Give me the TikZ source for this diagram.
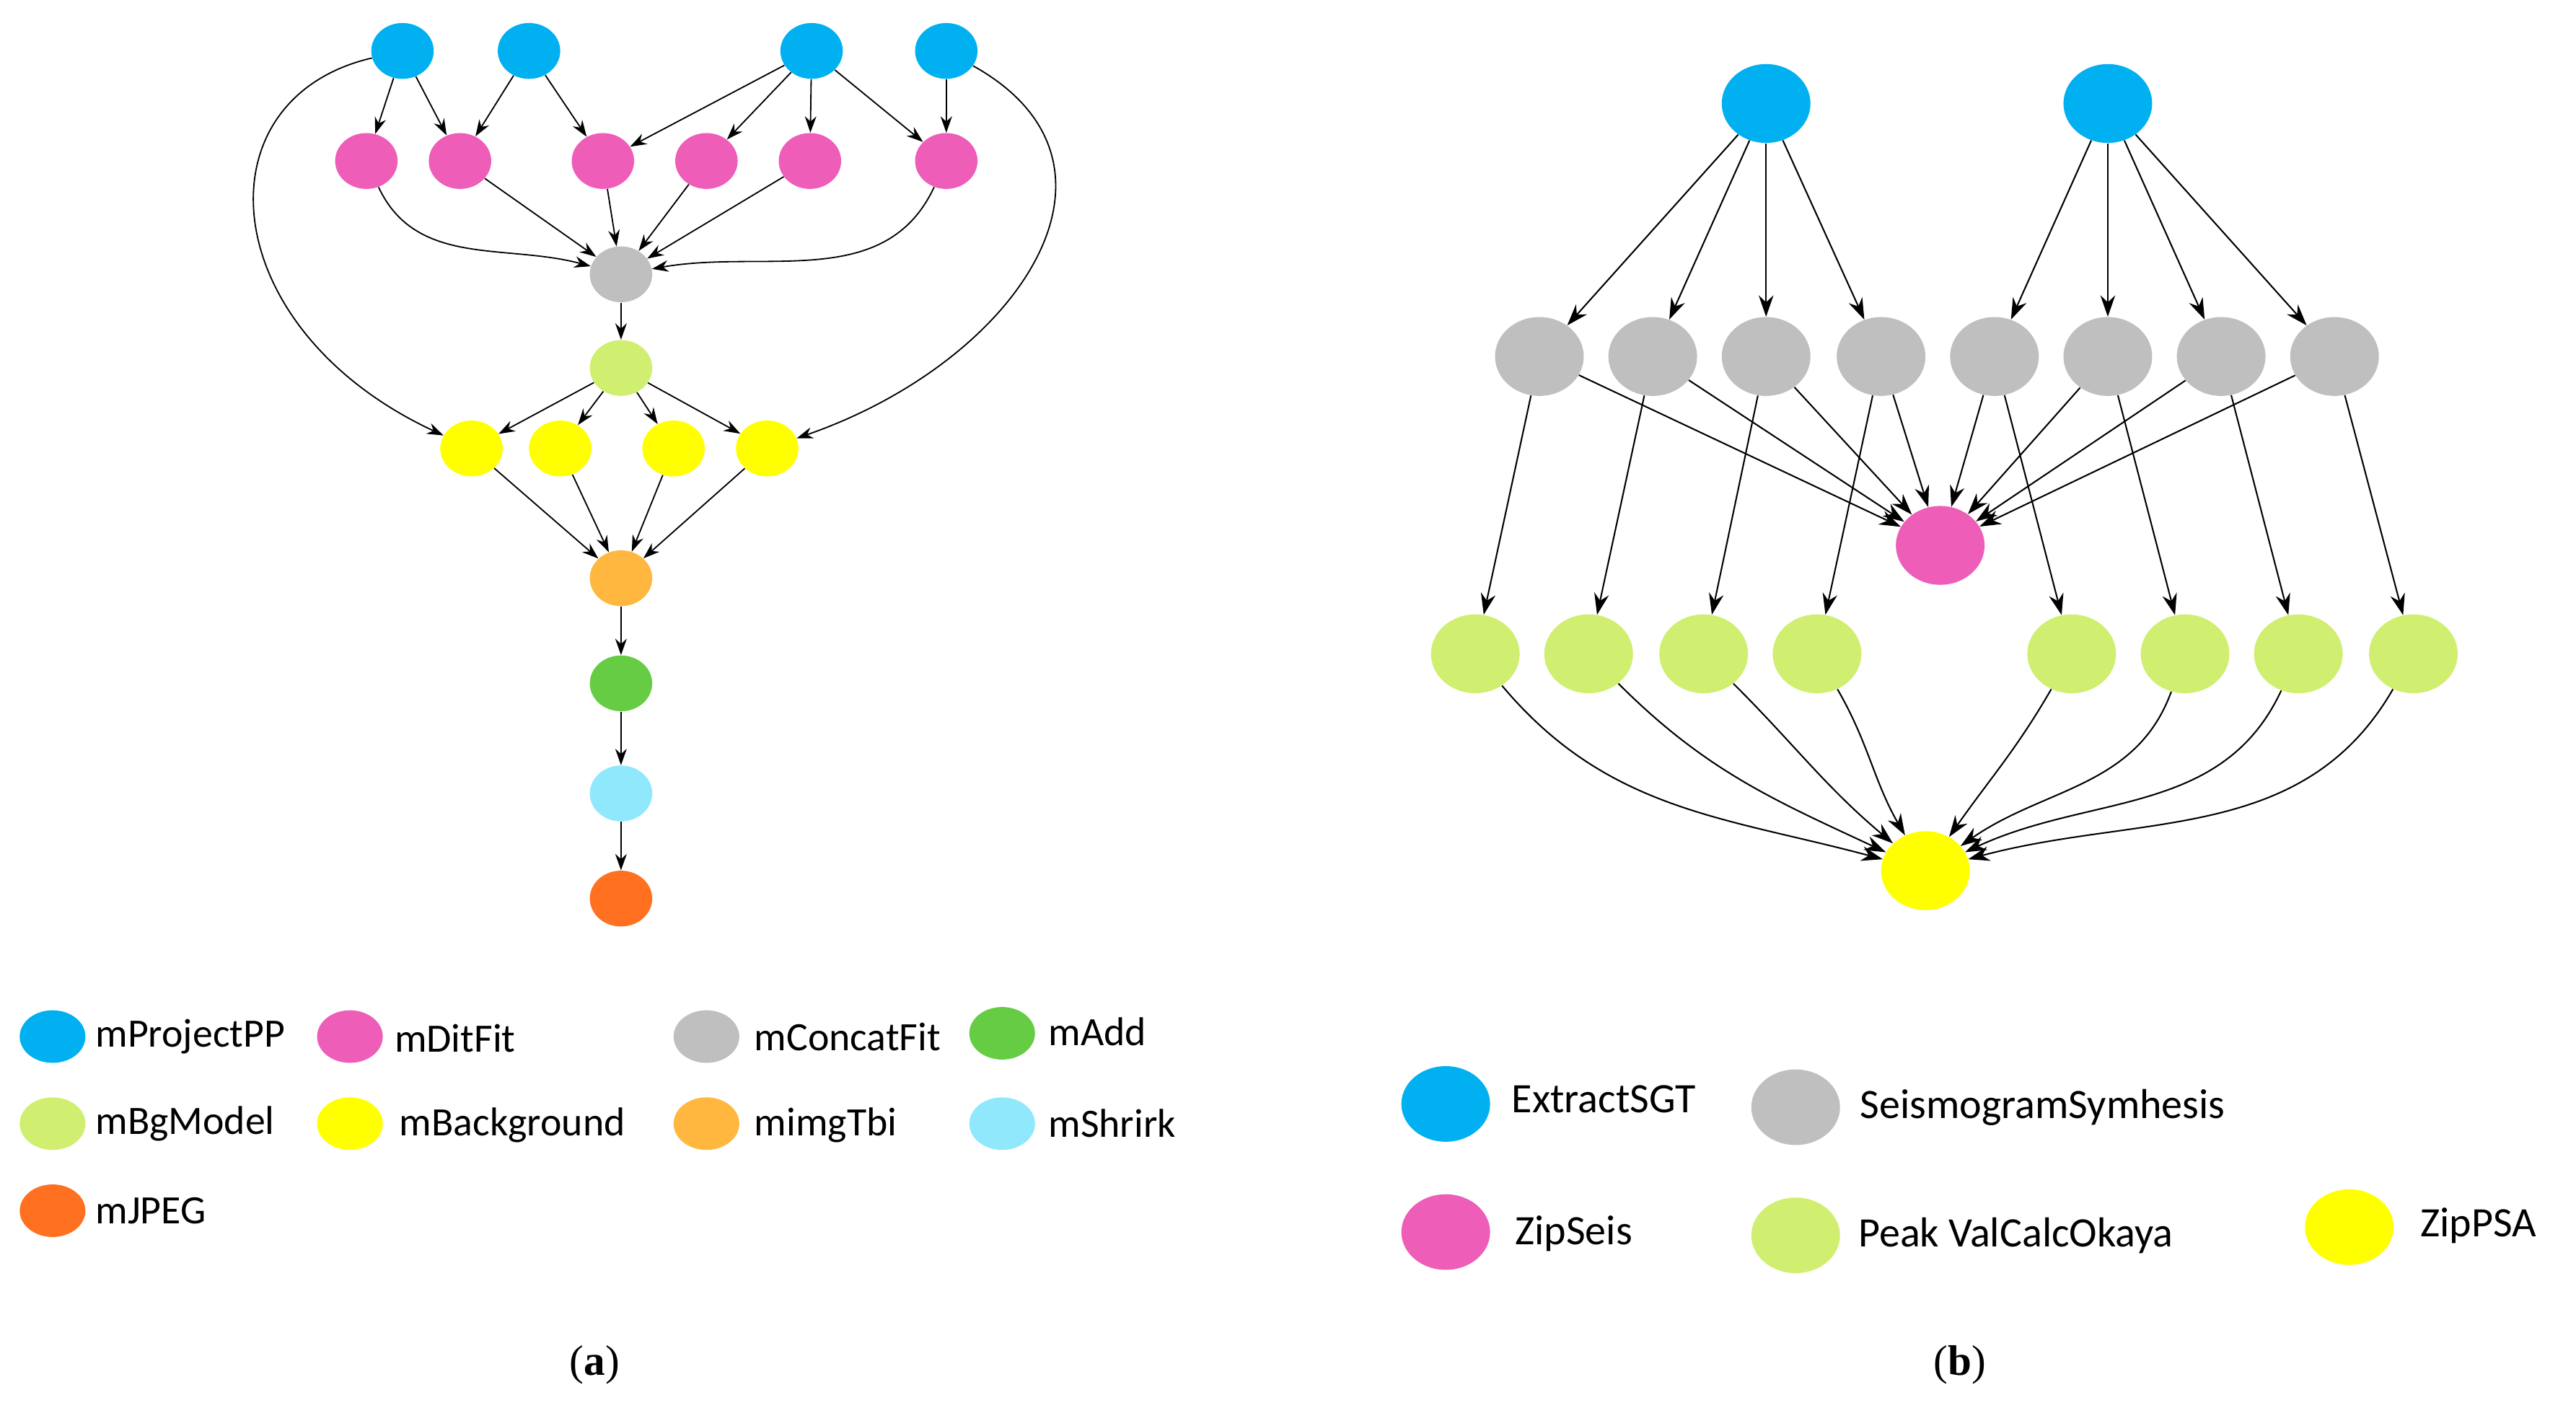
\documentclass[tikz,border=0pt]{standalone}
\usepackage{fontspec}
\setmainfont{Carlito}
\newfontfamily\capfont{Liberation Serif}
\usetikzlibrary{arrows.meta,shapes.geometric}
\definecolor{cblue}{HTML}{00B0F0}
\definecolor{cpink}{HTML}{EE5DB8}
\definecolor{cgray}{HTML}{BFBFBF}
\definecolor{clg}{HTML}{D0EE70}
\definecolor{cyel}{HTML}{FFFF00}
\definecolor{corg}{HTML}{FFB740}
\definecolor{cgrn}{HTML}{66CC44}
\definecolor{ccyan}{HTML}{90E8FC}
\definecolor{cred}{HTML}{FF7020}
\begin{document}
\begin{tikzpicture}[x=1pt,y=-1pt,
  na/.style={ellipse,draw=none,minimum width=38pt,minimum height=34pt,inner sep=0pt,fill=#1},
  nb/.style={ellipse,draw=none,minimum width=54pt,minimum height=48pt,inner sep=0pt,fill=#1},
  lg/.style={ellipse,draw=none,minimum width=40pt,minimum height=32pt,inner sep=0pt,fill=#1},
  lgb/.style={ellipse,draw=none,minimum width=54pt,minimum height=46pt,inner sep=0pt,fill=#1},
  lt/.style={anchor=west,font=\fontsize{24.5}{26}\selectfont,inner sep=0pt},
  ltb/.style={anchor=west,font=\fontsize{25.5}{27}\selectfont,inner sep=0pt},
  e/.style={-{Stealth[length=10pt,width=7pt]},line width=0.8pt},
  eb/.style={-{Stealth[length=13pt,width=9pt]},line width=0.9pt},
  ]
\useasboundingbox (0,0) rectangle (1568,857);
% (a)
\foreach \n/\x in {1/245,2/322,3/494,4/576}{\node[na=cblue] (b\n) at (\x,31) {};}
\foreach \n/\x in {1/223,2/280,3/367,4/430,5/493,6/576}{\node[na=cpink] (p\n) at (\x,98) {};}
\node[na=cgray] (g) at (378,167) {};
\node[na=clg] (m) at (378,224) {};
\foreach \n/\x in {1/287,2/341,3/410,4/467}{\node[na=cyel] (y\n) at (\x,273) {};}
\node[na=corg] (o) at (378,352) {};
\node[na=cgrn] (ad) at (378,416) {};
\node[na=ccyan] (sh) at (378,483) {};
\node[na=cred] (jp) at (378,547) {};
\foreach \a/\b in {b1/p1,b1/p2,b2/p2,b2/p3,b3/p3,b3/p4,b3/p5,b3/p6,b4/p6}{\draw[e] (\a) -- (\b);}
\draw[e] (b1) .. controls (120,60) and (130,200) .. (y1);
\draw[e] (b4) .. controls (700,100) and (620,220) .. (y4);
\draw[e] (p1) to[out=-65,in=165] (g);
\draw[e] (p6) to[out=-115,in=10] (g);
\foreach \a in {p2,p3,p4,p5}{\draw[e] (\a) -- (g);}
\draw[e] (g) -- (m);
\foreach \a in {y1,y2,y3,y4}{\draw[e] (m) -- (\a); \draw[e] (\a) -- (o);}
\draw[e] (o) -- (ad); \draw[e] (ad) -- (sh); \draw[e] (sh) -- (jp);
% (b)
\node[nb=cblue] (B1) at (1075,63) {};
\node[nb=cblue] (B2) at (1283,63) {};
\foreach \n/\x in {1/937,2/1006,3/1075,4/1145,5/1214,6/1283,7/1352,8/1421}{\node[nb=cgray] (G\n) at (\x,217) {};}
\node[nb=cpink] (P) at (1181,332) {};
\foreach \n/\x in {1/898,2/967,3/1037,4/1106,5/1261,6/1330,7/1399,8/1469}{\node[nb=clg] (L\n) at (\x,398) {};}
\node[nb=cyel] (Y) at (1172,530) {};
\foreach \n in {1,2,3,4}{\draw[eb] (B1) -- (G\n);}
\foreach \n in {5,6,7,8}{\draw[eb] (B2) -- (G\n);}
\foreach \n in {1,...,8}{\draw[eb] (G\n) -- (P); \draw[eb] (G\n) -- (L\n);}
\draw[eb] (L1) to[out=-50,in=165] (Y);
\draw[eb] (L2) to[out=-45,in=155] (Y);
\draw[eb] (L3) to[out=-45,in=140] (Y);
\draw[eb] (L4) to[out=-60,in=120] (Y);
\draw[eb] (L5) to[out=-120,in=55] (Y);
\draw[eb] (L6) to[out=-110,in=35] (Y);
\draw[eb] (L7) to[out=-115,in=25] (Y);
\draw[eb] (L8) to[out=-120,in=15] (Y);
% legend (a)
\node[lg=cblue] (la1) at (32,631) {}; \node[lt] (ta1) at (58,631) {mProjectPP};
\node[lg=cpink] (la2) at (213,631) {}; \node[lt] (ta2) at (240,632) {mDitFit};
\node[lg=cgray] (la3) at (430,631) {}; \node[lt] (ta3) at (459,631) {mConcatFit};
\node[lg=cgrn] (la4) at (610,629) {}; \node[lt] (ta4) at (638,628) {mAdd};
\node[lg=clg] (la5) at (32,684) {}; \node[lt] (ta5) at (58,684) {mBgModel};
\node[lg=cyel] (la6) at (213,684) {}; \node[lt] (ta6) at (243,685) {mBackground};
\node[lg=corg] (la7) at (430,684) {}; \node[lt] (ta7) at (459,685) {mimgTbi};
\node[lg=ccyan] (la8) at (610,684) {}; \node[lt] (ta8) at (638,684) {mShrirk};
\node[lg=cred] (la9) at (32,737) {}; \node[lt] (ta9) at (58,737) {mJPEG};
% legend (b)
\node[lgb=cblue] (lb1) at (880,672) {}; \node[ltb] (tb1) at (920,669) {ExtractSGT};
\node[lgb=cgray] (lb2) at (1093,674) {}; \node[ltb] (tb2) at (1132,674) {SeismogramSymhesis};
\node[lgb=cpink] (lb3) at (880,750) {}; \node[ltb] (tb3) at (922,751) {ZipSeis};
\node[lgb=clg] (lb4) at (1093,752) {}; \node[ltb] (tb4) at (1131,752) {Peak ValCalcOkaya};
\node[lgb=cyel] (lb5) at (1430,747) {}; \node[ltb] (tb5) at (1473,746) {ZipPSA};
\node[font=\capfont\fontsize{26}{28}\selectfont] (ca) at (362,831) {(\textbf{a})};
\node[font=\capfont\fontsize{26}{28}\selectfont] (cb) at (1193,831) {(\textbf{b})};
\end{tikzpicture}
\end{document}
